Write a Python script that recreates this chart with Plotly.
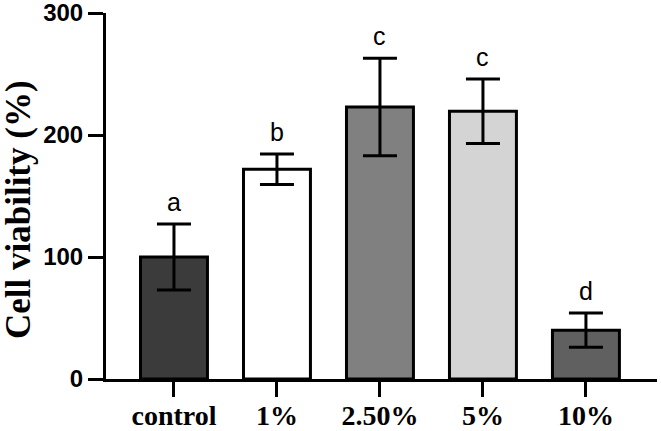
import plotly.graph_objects as go

categories = ["control", "1%", "2.50%", "5%", "10%"]
means = [100, 172, 223, 219.5, 40]
errors = [27, 12.5, 40, 26.5, 14]
letters = ["a", "b", "c", "c", "d"]
bar_colors = ["#3b3b3b", "#ffffff", "#808080", "#d4d4d4", "#606060"]
y_ticks = [0, 100, 200, 300]

xs = list(range(len(categories)))

fig = go.Figure()
fig.add_trace(go.Bar(
    x=xs, y=means, width=0.65,
    marker=dict(color=bar_colors, line=dict(color="black", width=3)),
    error_y=dict(type="data", array=errors, visible=True, color="black",
                 thickness=3, width=17),
    showlegend=False,
))

for x, m, e, t in zip(xs, means, errors, letters):
    fig.add_annotation(x=x, y=m + e, text=t, showarrow=False, yanchor="bottom",
                       yshift=6, font=dict(family="Liberation Sans, Arial", size=25, color="black"))

fig.add_annotation(x=0, y=0.5, xref="paper", yref="paper", text="Cell viability (%)",
                   textangle=-90, showarrow=False, xanchor="center", yanchor="middle",
                   xshift=-88, yshift=-14,
                   font=dict(family="Liberation Serif, Times New Roman", size=35, color="black", weight="bold"))

fig.update_layout(
    width=661, height=431,
    margin=dict(l=106, r=4, t=13, b=52),
    paper_bgcolor="white", plot_bgcolor="white",
)
fig.update_xaxes(
    range=[-0.66, 4.69], tickvals=xs, ticktext=categories,
    showline=True, linecolor="black", linewidth=3,
    ticks="outside", ticklen=15, tickwidth=3, tickcolor="black",
    tickfont=dict(family="Liberation Serif, Times New Roman", size=28, color="black", weight="bold"),
    ticklabelstandoff=-6,
    showgrid=False, zeroline=False, automargin=False,
)
fig.update_yaxes(
    range=[0, 300.01], tickvals=y_ticks,
    showline=True, linecolor="black", linewidth=3,
    ticks="outside", ticklen=15, tickwidth=3, tickcolor="black",
    tickfont=dict(family="Liberation Sans, Arial", size=24, color="black", weight="bold"),
    showgrid=False, zeroline=False, automargin=False, ticklabeloverflow="allow",
)

fig.write_html("out.html")
